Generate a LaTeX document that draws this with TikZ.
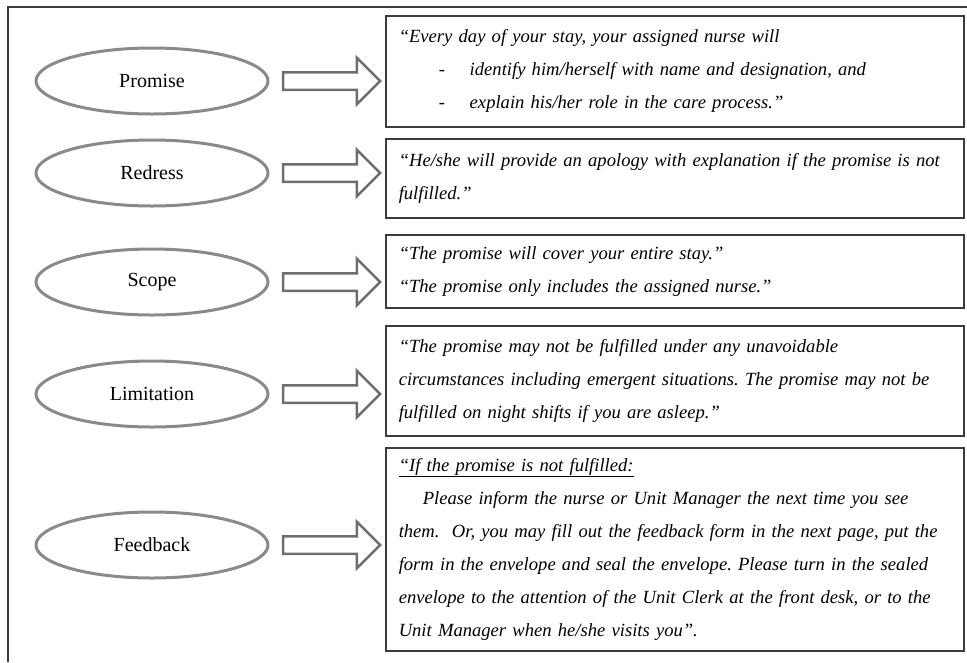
\documentclass[tikz,border=0pt]{standalone}
\usepackage{fontspec}
\setmainfont{Liberation Serif}
\usetikzlibrary{shapes.geometric,shapes.arrows,calc}

\definecolor{ovalgray}{RGB}{138,138,138}
\definecolor{arrowgray}{RGB}{110,110,110}
\definecolor{framegray}{RGB}{60,60,60}

\tikzset{every picture/.style={line width=0.75pt}}
\tikzset{
  oval/.style={draw=ovalgray, line width=3pt, ellipse, minimum width=232pt, minimum height=66pt,
    inner sep=0pt, font=\fontsize{20}{24}\selectfont},
  blockarrow/.style={draw=arrowgray, line width=2.5pt, single arrow, shape border rotate=0,
    single arrow head extend=14.5pt, single arrow tip angle=90, minimum height=97pt,
    inner xsep=0pt, inner ysep=7.5pt},
  quotebox/.style={draw=framegray, line width=1.5pt, rectangle, anchor=north west,
    inner xsep=13pt, inner ysep=0pt, text width=552pt, minimum width=578pt, align=left,
    font=\fontsize{18.6}{33}\selectfont\itshape\frenchspacing}
}
\newcommand{\dashitem}{\hspace*{40pt}\makebox[31pt][l]{-}}

\begin{document}
\begin{tikzpicture}[x=1pt,y=1pt,yscale=-1,xscale=1]
\useasboundingbox (0,0) rectangle (967,662);

%Frame
\draw [framegray, line width=2pt] (967,7) -- (8,7) -- (8,662);

%Shape: Ellipse
\node [oval] (promise) at (152,81) {Promise};
\node [oval] (redress) at (152,173) {Redress};
\node [oval] (scope) at (152,282) {Scope};
\node [oval] (limitation) at (152,394) {Limitation};
\node [oval] (feedback) at (152,545) {Feedback};

% Text Node
\node [quotebox, minimum height=111pt] (pbox) at (385,15) {“Every day of your stay, your assigned nurse will\\
\dashitem identify him/herself with name and designation, and\\
\dashitem explain his/her role in the care process.”};
% Text Node
\node [quotebox, minimum height=79pt] (rbox) at (385,138) {“He/she will provide an apology with explanation if the promise is not\\
fulfilled.”};
% Text Node
\node [quotebox, minimum height=73pt] (sbox) at (385,234) {“The promise will cover your entire stay.”\\
“The promise only includes the assigned nurse.”};
% Text Node
\node [quotebox, minimum height=110pt] (lbox) at (385,325) {“The promise may not be fulfilled under any unavoidable\\
circumstances including emergent situations. The promise may not be\\
fulfilled on night shifts if you are asleep.”};
% Text Node
\node [quotebox, minimum height=203pt] (fbox) at (385,447) {\underline{“If the promise is not fulfilled:}\\
\hspace*{24pt}Please inform the nurse or Unit Manager the next time you see\\
them.\ \ Or, you may fill out the feedback form in the next page, put the\\
form in the envelope and seal the envelope. Please turn in the sealed\\
envelope to the attention of the Unit Clerk at the front desk, or to the\\
Unit Manager when he/she visits you”.};

%Shape: Right Arrow
\node [blockarrow] (parrow) at ($(promise.east)!0.5!(promise.east -| pbox.west)$) {};
\node [blockarrow] (rarrow) at ($(redress.east)!0.5!(redress.east -| rbox.west)$) {};
\node [blockarrow] (sarrow) at ($(scope.east)!0.5!(scope.east -| sbox.west)$) {};
\node [blockarrow] (larrow) at ($(limitation.east)!0.5!(limitation.east -| lbox.west)$) {};
\node [blockarrow] (farrow) at ($(feedback.east)!0.5!(feedback.east -| fbox.west)$) {};

\end{tikzpicture}
\end{document}
